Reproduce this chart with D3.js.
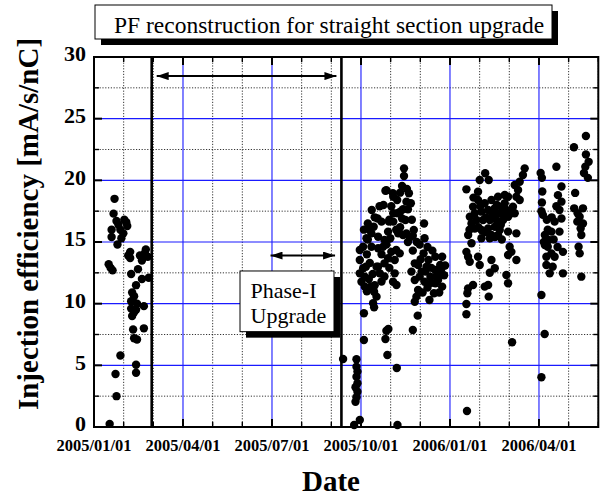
<!DOCTYPE html>
<html>
<head>
<meta charset="utf-8">
<script src="https://cdn.jsdelivr.net/npm/d3@7"></script>
<style>
  body { margin: 0; background: #fff; }
  svg { display: block; }
  text { font-family: "Liberation Serif", "Times New Roman", serif; }
</style>
</head>
<body>
<svg class="chart"></svg>
<script>
// days counted from 2005/01/01, efficiency in mA/s/nC
var run2005a = [
  [21,18.5],[20,17.3],[23,16.7],[31,16.8],[34,16.3],[18,16.0],[27,16.0],[30,15.7],[18,15.4],[24,14.8],
  [28,15.3],[25,16.4],[33,16.6],[37,14.2],[37,13.7],[53,14.4],[47,13.9],[49,13.5],[55,13.8],[52,14.1],
  [35,13.9],[15,13.2],[19,12.7],[17,12.9],[45,12.8],[38,12.4],[56,12.1],[49,12.0],[43,11.5],[39,10.9],
  [41,10.6],[38,10.2],[44,10.0],[51,9.8],[38,9.6],[43,9.5],[39,9.0],[41,9.3],[40,7.9],[51,8.0],
  [41,7.2],[44,7.1],[27,5.8],[43,5.05],[43,4.4],[22,4.3],[23,2.5],[16,0.25]
];

var run2005b = [
  [317,20.97],[317,20.35],[315,19.54],[298,19.16],[306,18.67],[322,18.95],[319.5,18.27],[324,18.14],[316,17.65],[318.5,16.78],
  [321,17.65],[313,17.46],[306,17.33],[284,17.6],[290,16.9],[280,16.5],[286,16.24],[294,16.65],[302,16.8],[306,16.65],
  [337.5,16.5],[327,15.97],[326,15.5],[338,15.3],[300.7,15.84],[311,15.7],[316,15.57],[319.5,15.7],[323,15.38],[283.7,15.7],
  [290.5,15.43],[297,15.16],[278.6,15.3],[275.2,14.62],[271.8,14.35],[283.7,14.62],[290.5,14.49],[295.6,14.62],[309,14.35],[312.6,14.08],
  [300.7,13.68],[307.5,13.54],[297,13.27],[290.5,13.0],[271.8,13.54],[275.2,12.87],[271.8,12.46],[276.9,12.19],[273.5,11.78],[276.9,11.38],
  [288.9,13.0],[292.2,12.46],[307.5,12.46],[305.8,11.78],[309.3,11.51],[287,11.5],[286.4,10.97],[288.9,10.57],[285.4,10.03],[286.4,9.7],
  [328,13.27],[337,14.08],[342,13.54],[349,13.81],[356,13.81],[354,13.14],[349,12.73],[344,12.19],[338,11.78],[333,12.19],
  [328,11.92],[349,11.65],[356,11.38],[347.6,10.84],[331.4,11.11],[329.7,10.57],[328,10.16],[335,12.6],[324.6,12.6],[340,13.0],
  [351.8,11.92],[331.4,13.14],[345,12.9],[352,12.4],[341,11.3],[336,10.9],[346,14.3],[359,13.1],[358,12.3],[353,10.9],
  [343,10.3],[299,19.2],[305.6,18.95],[282,16.0],[280,15.2],[301.6,16.65],[310,17.33],
  [276,16.0],[279,14.0],[282,13.3],[285,12.4],[281,12.0],[279,11.0],[294,14.0],[299,14.8],[303,15.3],[304,14.2],
  [294,11.8],[297,12.2],[302,12.9],[313,16.2],[309,16.0],[304,17.9],[310,18.4],[313,19.0],[320,19.3],[292,17.9],
  [287,17.0],[296,18.0],[278,13.0],[283,11.4],[315,16.9],[325,16.8],[330,15.0],[321,15.0],[326,14.3],[334,13.6],
  [339,12.6],[345,11.7],[350,12.2],[355,12.8],[341,14.6],[333,14.8],
  [331,9.03],[326,7.87],[301,7.95],[299,7.81],[298,7.14],[276,9.22],[276,7.05],[300,5.84],[309.6,4.78],[254.7,5.51],
  [268.4,5.49],[268.4,4.89],[269.4,4.49],[268.4,4.08],[269.4,3.54],[267.4,3.22],[269.4,2.86],[268.4,2.41],[267.4,2.05],[271.8,0.57],
  [266,0.16],[310.3,0.16]
];

var run2006 = [
  [503,23.6],[490.8,22.68],[503,22.1],[505.8,21.5],[502.4,21.1],[501,20.6],[505,20.2],[472.8,21.1],
  [456.7,20.6],[458,20.2],[458.4,19.1],[458,18.2],[457.5,17.5],
  [478,19.5],[474.4,18.8],[478,18.27],[472.8,17.9],[476,17.6],[478,16.9],[471,16.65],[467.7,15.84],[476,15.84],
  [459,17.2],[463,16.8],[461,15.57],[460,15.0],[465,15.16],[464,14.62],[467.7,14.08],[462.6,13.81],[471,13.81],[462.6,13.14],
  [466,12.46],[479.5,14.2],[479.5,12.46],[461,14.75],[468,17.0],[470,15.2],[464,16.0],[474,14.6],[469,13.0],
  [492,18.98],[491,17.73],[494.5,17.33],[500,17.73],[496.6,17.05],[494.2,16.65],[500,16.5],[497.6,16.1],[498.3,15.57],[495.5,14.62],
  [496.6,14.08],[498.3,12.19],
  [457.5,10.7],[460.8,7.54],[457.5,4.03],
  [380.8,19.27],[394.4,20.03],[400,20.57],[403.6,20.03],[392.7,19.08],
  [440.4,20.97],[438.6,20.43],[435.3,19.89],[430.2,19.62],[433.6,19.22],[431.9,18.67],[435.3,18.4],[428.4,17.86],[430.2,17.33],
  [387.6,17.86],[392.7,18.4],[399.5,18.14],[406.4,18.4],[413.2,18.67],[420,18.81],[423.4,18.67],[384.3,17.05],[389.4,17.33],[396.2,17.46],
  [403,17.6],[409.8,17.73],[416.6,17.86],[421.7,17.6],[423.4,17.05],[386,16.5],[391,16.78],[397.9,16.78],[404.7,16.78],[411.5,16.78],
  [418.3,16.78],[389.4,16.1],[396.2,15.97],[403,16.1],[409.8,16.24],[414.9,15.97],[406.4,15.57],[413.2,15.57],[396.2,15.3],[404.7,15.3],
  [382.6,15.57],[386,14.9],[420,18.14],[426.8,17.33],[414.9,17.33],
  [384,16.0],[388,18.6],[395,17.9],[401,17.0],[408,17.2],[412,18.0],[416,16.4],[419,17.3],[400,15.8],[393,16.2],
  [410,15.4],[417,15.2],
  [423.4,15.84],[431.9,15.7],[425,14.62],[426.8,14.2],[431.9,13.54],[423.4,13.95],
  [380.8,14.2],[382.5,13.81],[384.2,13.4],[392.7,13.81],[394.4,13.14],[406.4,13.54],[409.8,12.87],[404.7,12.51],
  [421.7,12.32],[423.4,11.65],
  [387.6,11.51],[382.5,11.24],[381.8,10.84],[399.5,11.38],[403,11.51],[403.6,10.57],
  [380.8,9.97],[380.8,9.14],[427.5,6.87],[381.4,1.3]
];

// axis ticks: labels every 91 days
var xTickDays = [0, 91, 182, 273, 364, 455];
var xTickLabels = ['2005/01/01', '2005/04/01', '2005/07/01', '2005/10/01', '2006/01/01', '2006/04/01'];
var yTicks = [0, 5, 10, 15, 20, 25, 30];

// shutdown markers (days) and annotation arrows
var shutdownDays = [59, 253];
var pfArrowLevel = 28.45;
var phaseArrowDays = [180.5, 246.5];
var phaseArrowLevel = 13.9;
var phaseBox = { x0: 149.3, x1: 245.4, y0: 12.65, y1: 7.73 };

var svgWidth = 600, svgHeight = 498;
var margin = {top: 57, right: 1.7, bottom: 71, left: 94};
var width = svgWidth - margin.left - margin.right;
var height = svgHeight - margin.top - margin.bottom;

var svg = d3.select('.chart')
    .attr('width', svgWidth)
    .attr('height', svgHeight);

var defs = svg.append('defs');
defs.append('marker')
    .attr('id', 'head')
    .attr('viewBox', '0 0 12 8')
    .attr('refX', 12).attr('refY', 4)
    .attr('markerWidth', 12).attr('markerHeight', 8)
    .attr('markerUnits', 'userSpaceOnUse')
    .attr('orient', 'auto-start-reverse')
  .append('path')
    .attr('d', 'M0,0L12,4L0,8Z')
    .attr('fill', '#000');

var g = svg.append('g')
    .attr('transform', 'translate(' + margin.left + ',' + margin.top + ')');

var x = d3.scaleLinear()
    .domain([0, 455 + 2 * 91 / 3])
    .range([0, width]);

var y = d3.scaleLinear()
    .domain([0, 30])
    .range([height, 0]);

// minor positions: thirds between x majors, halves between y majors
var xMinor = d3.range(0, 455 + 2 * 91 / 3 + 0.1, 91 / 3).filter(function(d, i) { return i % 3 != 0; });
var yMinor = d3.range(2.5, 30, 5);

// dotted minor grid
g.append('g').selectAll('line.xm')
    .data(xMinor).enter().append('line')
    .attr('x1', function(d) { return x(d); }).attr('x2', function(d) { return x(d); })
    .attr('y1', 0).attr('y2', height)
    .attr('stroke', '#000').attr('stroke-width', 0.8).attr('stroke-dasharray', '1.2,1.6');
g.append('g').selectAll('line.ym')
    .data(yMinor).enter().append('line')
    .attr('y1', function(d) { return y(d); }).attr('y2', function(d) { return y(d); })
    .attr('x1', 0).attr('x2', width)
    .attr('stroke', '#000').attr('stroke-width', 0.8).attr('stroke-dasharray', '1.2,1.6');

// blue major grid
g.append('g').selectAll('line')
    .data(xTickDays.slice(1)).enter().append('line')
    .attr('x1', function(d) { return x(d); }).attr('x2', function(d) { return x(d); })
    .attr('y1', 0).attr('y2', height)
    .attr('stroke', '#1a1aff').attr('stroke-width', 1.1);
g.append('g').selectAll('line')
    .data(yTicks.slice(1, -1)).enter().append('line')
    .attr('y1', function(d) { return y(d); }).attr('y2', function(d) { return y(d); })
    .attr('x1', 0).attr('x2', width)
    .attr('stroke', '#1a1aff').attr('stroke-width', 1.1);

// thick shutdown lines
g.selectAll('.shutdown')
    .data(shutdownDays).enter().append('line')
    .attr('class', 'shutdown')
    .attr('x1', function(d) { return x(d); }).attr('x2', function(d) { return x(d); })
    .attr('y1', 0).attr('y2', height)
    .attr('stroke', '#000').attr('stroke-width', 2.6);

// points
var allRuns = run2005a.concat(run2005b, run2006);
g.append('g').selectAll('circle')
    .data(allRuns).enter().append('circle')
    .attr('cx', function(d) { return x(d[0]); })
    .attr('cy', function(d) { return y(d[1]); })
    .attr('r', 4.2)
    .attr('fill', '#000');

// ticks, all four sides, pointing inward
function tickLines(sel, data, len, w, vertical, at) {
  sel.selectAll(null).data(data).enter().append('line')
      .attr('x1', function(d) { return vertical ? x(d) : at; })
      .attr('x2', function(d) { return vertical ? x(d) : at + len; })
      .attr('y1', function(d) { return vertical ? at : y(d); })
      .attr('y2', function(d) { return vertical ? at + len : y(d); })
      .attr('stroke', '#000').attr('stroke-width', w);
}
var ticks = g.append('g');
tickLines(ticks, xTickDays, -8, 2, true, height);
tickLines(ticks, xTickDays, 8, 2, true, 0);
tickLines(ticks, xMinor, -5, 1.4, true, height);
tickLines(ticks, xMinor, 5, 1.4, true, 0);
tickLines(ticks, yTicks, 8, 2, false, 0);
tickLines(ticks, yTicks, -8, 2, false, width);
tickLines(ticks, yMinor, 5, 1.4, false, 0);
tickLines(ticks, yMinor, -5, 1.4, false, width);

// frame
g.append('rect')
    .attr('width', width).attr('height', height)
    .attr('fill', 'none').attr('stroke', '#000').attr('stroke-width', 2);

// tick labels
g.append('g').selectAll('text')
    .data(xTickDays).enter().append('text')
    .attr('x', function(d) { return x(d); })
    .attr('y', height + 24)
    .attr('text-anchor', 'middle')
    .attr('font-size', '16.5px').attr('font-weight', 'bold')
    .text(function(d, i) { return xTickLabels[i]; });

g.append('g').selectAll('text')
    .data(yTicks).enter().append('text')
    .attr('x', -8)
    .attr('y', function(d) { return y(d); })
    .attr('dy', '0.2em')
    .attr('text-anchor', 'end')
    .attr('font-size', '22px').attr('font-weight', 'bold')
    .text(function(d) { return d; });

// axis titles
svg.append('text')
    .attr('transform', 'translate(28,' + 224 + ') rotate(-90)')
    .attr('dy', '0.35em')
    .attr('text-anchor', 'middle')
    .attr('font-size', '29px').attr('font-weight', 'bold')
    .text('Injection efficiency [mA/s/nC]');

svg.append('text')
    .attr('x', 331)
    .attr('y', 491)
    .attr('text-anchor', 'middle')
    .attr('font-size', '29px').attr('font-weight', 'bold')
    .text('Date');

// PF arrow between shutdown lines
g.append('line')
    .attr('x1', x(shutdownDays[0]) + 5).attr('x2', x(shutdownDays[1]) - 5)
    .attr('y1', y(pfArrowLevel)).attr('y2', y(pfArrowLevel))
    .attr('stroke', '#000').attr('stroke-width', 2)
    .attr('marker-start', 'url(#head)').attr('marker-end', 'url(#head)');

// Phase-I arrow
g.append('line')
    .attr('x1', x(phaseArrowDays[0])).attr('x2', x(phaseArrowDays[1]))
    .attr('y1', y(phaseArrowLevel)).attr('y2', y(phaseArrowLevel))
    .attr('stroke', '#000').attr('stroke-width', 2)
    .attr('marker-start', 'url(#head)').attr('marker-end', 'url(#head)');

// Phase-I box with shadow
var bx = x(phaseBox.x0), by = y(phaseBox.y0);
var bw = x(phaseBox.x1) - bx, bh = y(phaseBox.y1) - by;
g.append('rect')
    .attr('x', bx + 6).attr('y', by + 6).attr('width', bw).attr('height', bh)
    .attr('fill', '#000');
g.append('rect')
    .attr('x', bx).attr('y', by).attr('width', bw).attr('height', bh)
    .attr('fill', '#fff').attr('stroke', '#000').attr('stroke-width', 1);
g.append('text')
    .attr('x', bx + 10.5).attr('y', by + 27)
    .attr('font-size', '22px')
    .text('Phase-I');
g.append('text')
    .attr('x', bx + 10.5).attr('y', by + 52)
    .attr('font-size', '22px')
    .text('Upgrade');

// title box with shadow
svg.append('rect')
    .attr('x', 101).attr('y', 11).attr('width', 457).attr('height', 34)
    .attr('fill', '#000');
svg.append('rect')
    .attr('x', 95).attr('y', 5).attr('width', 457).attr('height', 34)
    .attr('fill', '#fff').attr('stroke', '#000').attr('stroke-width', 1);
svg.append('text')
    .attr('x', 114).attr('y', 32.5)
    .attr('font-size', '23.5px')
    .text('PF reconstruction for straight section upgrade');
</script>
</body>
</html>
